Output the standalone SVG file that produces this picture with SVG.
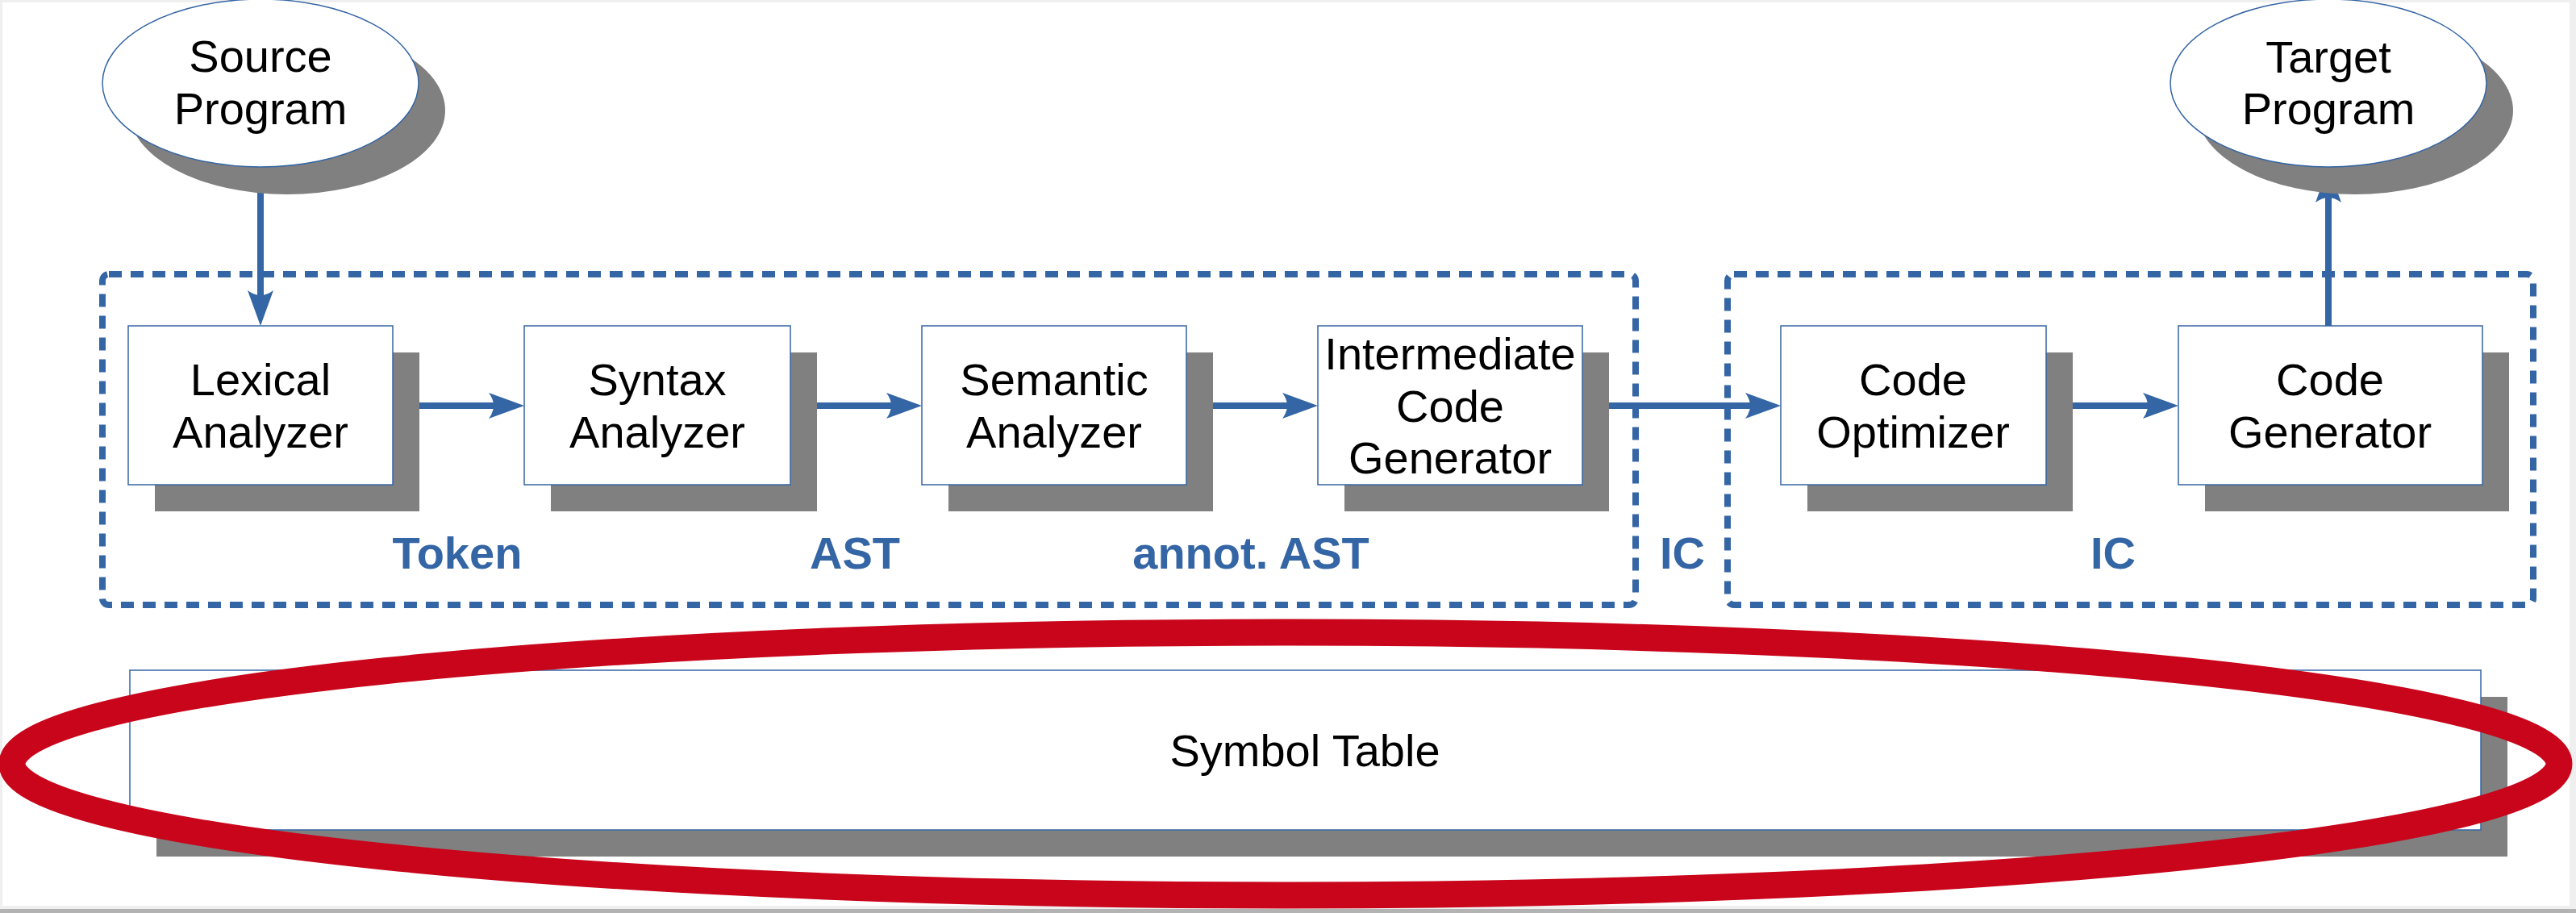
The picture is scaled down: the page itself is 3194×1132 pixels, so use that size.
<svg xmlns="http://www.w3.org/2000/svg" width="3194" height="1132" viewBox="0 0 3194 1132">
<style>
.shadow{fill:#808080;stroke:none}
.node{fill:#ffffff;stroke:#3465a4;stroke-width:1.5}
.txt{font-family:"Liberation Sans",Arial,sans-serif;font-size:56px;fill:#000000;text-anchor:middle}
.lbl{font-family:"Liberation Sans",Arial,sans-serif;font-size:56px;font-weight:bold;fill:#3465a4;text-anchor:middle}
.conn{fill:none;stroke:#3465a4;stroke-width:8}
.group{fill:none;stroke:#3465a4;stroke-width:8;stroke-dasharray:16 11}
</style>
<defs>
<marker id="ah" viewBox="0 0 44 32" markerWidth="44" markerHeight="32" refX="8" refY="16" orient="auto" markerUnits="userSpaceOnUse">
<path d="M0,0 L44,16 L0,32 Q12,16 0,0 Z" fill="#3465a4"/>
</marker>
</defs>
<rect x="0" y="0" width="3194" height="1132" fill="#efefef"/>
<rect x="3" y="3" width="3183" height="1120" fill="#ffffff"/>
<rect x="0" y="1127" width="3194" height="5" fill="#b3b3b3"/>

<g id="connectors">
<path class="conn" d="M323,207 V368" marker-end="url(#ah)"/>
<path class="conn" d="M487,503 H614" marker-end="url(#ah)"/>
<path class="conn" d="M980,503 H1107" marker-end="url(#ah)"/>
<path class="conn" d="M1471,503 H1598" marker-end="url(#ah)"/>
<path class="conn" d="M1962,503 H2172" marker-end="url(#ah)"/>
<path class="conn" d="M2537,503 H2665" marker-end="url(#ah)"/>
<path class="conn" d="M2887,404 V243" marker-end="url(#ah)"/>
</g>

<g id="frontend-group">
<rect class="group" x="127" y="340" width="1901" height="410" rx="8"/>
</g>
<g id="backend-group">
<rect class="group" x="2142" y="340" width="999" height="410" rx="8"/>
</g>

<g id="source">
<ellipse class="shadow" cx="356" cy="137" rx="196" ry="104"/>
<ellipse class="node" cx="323" cy="103" rx="196" ry="104"/>
<text class="txt" x="323" y="89">Source</text>
<text class="txt" x="323" y="154">Program</text>
</g>
<g id="target">
<ellipse class="shadow" cx="2920" cy="137" rx="196" ry="104"/>
<ellipse class="node" cx="2887" cy="103" rx="196" ry="104"/>
<text class="txt" x="2887" y="90">Target</text>
<text class="txt" x="2887" y="154">Program</text>
</g>

<g id="lexical">
<rect class="shadow" x="192" y="437" width="328" height="197"/>
<rect class="node" x="159" y="404" width="328" height="197"/>
<text class="txt" x="323" y="490">Lexical</text>
<text class="txt" x="323" y="555">Analyzer</text>
</g>
<g id="syntax">
<rect class="shadow" x="683" y="437" width="330" height="197"/>
<rect class="node" x="650" y="404" width="330" height="197"/>
<text class="txt" x="815" y="490">Syntax</text>
<text class="txt" x="815" y="555">Analyzer</text>
</g>
<g id="semantic">
<rect class="shadow" x="1176" y="437" width="328" height="197"/>
<rect class="node" x="1143" y="404" width="328" height="197"/>
<text class="txt" x="1307" y="490">Semantic</text>
<text class="txt" x="1307" y="555">Analyzer</text>
</g>
<g id="intermediate">
<rect class="shadow" x="1667" y="437" width="328" height="197"/>
<rect class="node" x="1634" y="404" width="328" height="197"/>
<text class="txt" x="1798" y="458">Intermediate</text>
<text class="txt" x="1798" y="523">Code</text>
<text class="txt" x="1798" y="587">Generator</text>
</g>
<g id="optimizer">
<rect class="shadow" x="2241" y="437" width="329" height="197"/>
<rect class="node" x="2208" y="404" width="329" height="197"/>
<text class="txt" x="2372" y="490">Code</text>
<text class="txt" x="2372" y="555">Optimizer</text>
</g>
<g id="generator">
<rect class="shadow" x="2734" y="437" width="377" height="197"/>
<rect class="node" x="2701" y="404" width="377" height="197"/>
<text class="txt" x="2889" y="490">Code</text>
<text class="txt" x="2889" y="555">Generator</text>
</g>

<g id="labels">
<text class="lbl" x="567" y="705">Token</text>
<text class="lbl" x="1060" y="705">AST</text>
<text class="lbl" x="1551" y="705">annot. AST</text>
<text class="lbl" x="2086" y="705">IC</text>
<text class="lbl" x="2620" y="705">IC</text>
</g>

<g id="symbol-table">
<rect class="shadow" x="194" y="864" width="2915" height="198"/>
<rect class="node" x="161" y="831" width="2915" height="198"/>
<text class="txt" x="1618" y="950">Symbol Table</text>
</g>

<g id="highlight">
<ellipse cx="1594" cy="947" rx="1579" ry="163" fill="none" stroke="#c8051a" stroke-width="33"/>
</g>
</svg>
